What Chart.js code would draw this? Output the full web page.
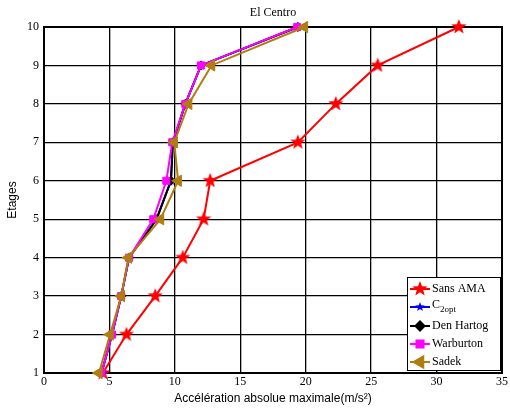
<!DOCTYPE html>
<html><head><meta charset="utf-8">
<script src="https://cdn.jsdelivr.net/npm/chart.js@4/dist/chart.umd.min.js"></script>
<style>html,body{margin:0;padding:0;background:#fff}#wrap{width:510px;height:415px}</style>
</head><body><div id="wrap"><canvas id="c" width="510" height="415"></canvas></div>
<script>
const floors = [1,2,3,4,5,6,7,8,9,10];
const sansAMA   = [4.5, 6.3, 8.5, 10.6, 12.2, 12.7, 19.4, 22.3, 25.5, 31.7];
const c2opt     = [4.4, 5.2, 5.9, 6.5, 8.6, 9.7, 9.85, 10.8, 12.0, 19.4];
const denHartog = [4.4, 5.2, 5.9, 6.5, 8.6, 9.7, 9.85, 10.8, 12.0, 19.4];
const warburton = [4.4, 5.2, 5.9, 6.5, 8.35, 9.35, 9.8, 10.8, 12.0, 19.35];
const sadek     = [4.2, 5.05, 5.9, 6.45, 8.9, 10.25, 9.95, 11.05, 12.8, 19.9];
const seriesNames = ['Sans AMA', 'C2opt', 'Den Hartog', 'Warburton', 'Sadek'];
const xTicks = [0,5,10,15,20,25,30,35];
const yTicks = [1,2,3,4,5,6,7,8,9,10];

function starCanvas(r, color){
  const s = Math.ceil(r*2+2), cv = document.createElement('canvas');
  cv.width = s; cv.height = s;
  const g = cv.getContext('2d');
  g.fillStyle = color; g.beginPath();
  for (let i=0;i<10;i++){
    const a = -Math.PI/2 + i*Math.PI/5;
    const rr = i%2===0 ? r : r*0.42;
    const x = s/2 + rr*Math.cos(a), y = s/2 + rr*Math.sin(a);
    i===0 ? g.moveTo(x,y) : g.lineTo(x,y);
  }
  g.closePath(); g.fill();
  return cv;
}
const redStar = starCanvas(8, '#ff0000');
const blueStar = starCanvas(5, '#0000ff');

function pts(arr){ return arr.map((v,i)=>({x:v, y:floors[i]})); }

const styles = [
  {color:'#ff0000', pointStyle:redStar, radius:7, rot:0, order:4},
  {color:'#0000ff', pointStyle:blueStar, radius:5, rot:0, order:3},
  {color:'#000000', pointStyle:'rectRot', radius:4.5, rot:0, order:2},
  {color:'#ff00ff', pointStyle:'rect', radius:5, rot:0, order:1},
  {color:'#b07d10', pointStyle:'triangle', radius:6.5, rot:-90, order:0}
];
const values = [sansAMA, c2opt, denHartog, warburton, sadek];

const datasets = values.map((v,i)=>({
  label: seriesNames[i],
  data: pts(v),
  borderColor: styles[i].color,
  backgroundColor: styles[i].color,
  borderWidth: 2,
  pointStyle: styles[i].pointStyle,
  pointRadius: styles[i].radius,
  pointRotation: styles[i].rot,
  pointBorderWidth: 1,
  pointBorderColor: styles[i].color,
  pointBackgroundColor: styles[i].color,
  order: styles[i].order,
  showLine: true,
  clip: false,
  tension: 0
}));

const overlay = {
  id: 'overlay',
  afterDraw(chart){
    const ctx = chart.ctx, a = chart.chartArea;
    ctx.save();
    ctx.fillStyle = '#000';
    ctx.font = '12px "Liberation Serif"';
    ctx.textAlign = 'center'; ctx.textBaseline = 'middle';
    ctx.fillText('El Centro', (a.left + a.right)/2, 13);
    // legend
    const lx = 407, ly = 277, lw = 93, lh = 93;
    ctx.fillStyle = '#fff';
    ctx.fillRect(lx, ly, lw, lh);
    ctx.strokeStyle = '#000'; ctx.lineWidth = 1;
    ctx.strokeRect(lx+0.5, ly+0.5, lw, lh);
    const ys = [289, 307, 326, 344, 362];
    chart.data.datasets.forEach((ds, i) => {
      const y = ys[i];
      ctx.strokeStyle = ds.borderColor; ctx.lineWidth = 2;
      ctx.beginPath(); ctx.moveTo(410, y); ctx.lineTo(430, y); ctx.stroke();
      ctx.fillStyle = ds.backgroundColor;
      Chart.helpers.drawPoint(ctx, {pointStyle: ds.pointStyle, rotation: ds.pointRotation, radius: ds.pointRadius, borderWidth: 1}, 420, y);
      ctx.fillStyle = '#000';
      ctx.textAlign = 'left'; ctx.textBaseline = 'middle';
      ctx.font = '12px "Liberation Serif"';
      const name = ds.label;
      if (name === 'C2opt') {
        ctx.fillText('C', 432, y - 2);
        const w = ctx.measureText('C').width;
        ctx.font = '9px "Liberation Serif"';
        ctx.fillText('2opt', 432 + w, y + 3);
      } else {
        ctx.fillText(name, 432, y);
      }
    });
    ctx.restore();
  },
  beforeDatasetsDraw(chart){
    const ctx = chart.ctx, a = chart.chartArea;
    ctx.save();
    ctx.strokeStyle = '#000'; ctx.lineWidth = 2;
    ctx.strokeRect(a.left, a.top, a.right - a.left, a.bottom - a.top);
    ctx.restore();
  }
};

new Chart(document.getElementById('c'), {
  type: 'scatter',
  data: { datasets },
  options: {
    responsive: false,
    animation: false,
    devicePixelRatio: 1,
    layout: { padding: { left: 0, right: 7, top: 27, bottom: 0 } },
    plugins: { legend: { display: false }, tooltip: { enabled: false }, title: { display: false } },
    scales: {
      x: {
        type: 'linear', min: 0, max: 35,
        afterBuildTicks(s){ s.ticks = xTicks.map(v=>({value:v})); },
        afterFit(s){ s.height = 42; },
        grid: { color: '#000', lineWidth: 1.3, drawTicks: false },
        border: { display: false },
        ticks: { color: '#000', font: { family: 'Liberation Serif', size: 12 }, padding: 2 },
        title: { display: true, text: 'Accélération absolue maximale(m/s²)', color: '#000',
                 font: { family: 'Liberation Sans', size: 12 }, padding: { top: 0, bottom: 9 } }
      },
      y: {
        type: 'linear', min: 1, max: 10,
        afterBuildTicks(s){ s.ticks = yTicks.map(v=>({value:v})); },
        afterFit(s){ s.width = 44; },
        grid: { color: '#000', lineWidth: 1.3, drawTicks: false },
        border: { display: false },
        ticks: { color: '#000', font: { family: 'Liberation Serif', size: 12 }, padding: 5 },
        title: { display: true, text: 'Etages', color: '#000',
                 font: { family: 'Liberation Sans', size: 12 }, padding: { top: 5, bottom: 0 } }
      }
    }
  },
  plugins: [overlay]
});
</script>
</body></html>
